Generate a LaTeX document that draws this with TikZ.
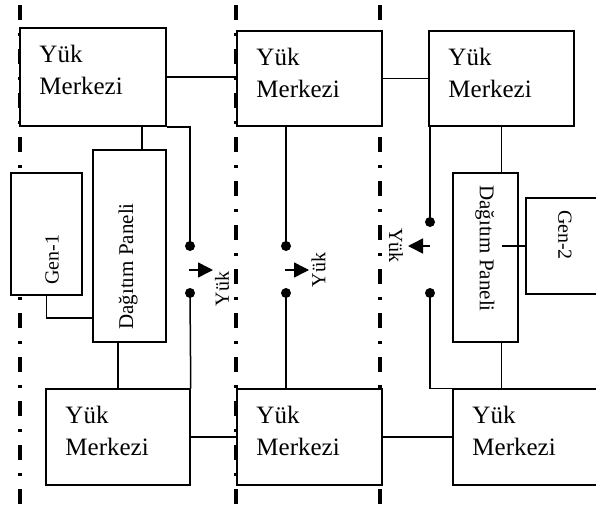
\documentclass[tikz,border=0pt]{standalone}
\usepackage{fontspec}
\setmainfont{Liberation Serif}
\usetikzlibrary{arrows.meta}
\newcommand\boxfont{\fontsize{25}{31.5}\selectfont}
\newcommand\sidefont{\fontsize{20}{24}\selectfont}
\newcommand\panelfont{\fontsize{21}{25}\selectfont}
\begin{document}
\begin{tikzpicture}[x=1pt,y=-1pt,
  conn/.style={line width=1.5pt},
  divider/.style={line width=3.1pt, dash pattern=on 15pt off 13pt on 3pt off 13pt},
  frame/.style={draw, fill=white, line width=1.5pt, inner sep=0pt},
  ymbox/.style={frame, label={[anchor=north west, align=left, font=\boxfont, inner sep=0pt, xshift=20pt, yshift=-18pt]north west:Yük\\Merkezi}},
  sidetext/.style={font=\sidefont, inner sep=0pt},
  paneltext/.style={font=\panelfont, inner sep=0pt},
  tip/.style={conn, -{Triangle[length=15pt,width=15pt]}},
  contact/.style={fill=black}]
\useasboundingbox (0,0) rectangle (596,506);
\clip (0,0) rectangle (596,506);

% zone dividers
\draw[divider] (20,5) -- (20,512);
\draw[divider] (236,5) -- (236,512);
\draw[divider] (380,5) -- (380,512);

% load centres
\node[ymbox, minimum width=146pt, minimum height=98pt] (tl) at (93,77) {};
\node[ymbox, minimum width=145pt, minimum height=95pt] (tm) at (309.5,78.5) {};
\node[ymbox, minimum width=145pt, minimum height=95pt] (tr) at (501.5,78.5) {};
\node[ymbox, minimum width=144pt, minimum height=96pt] (bl) at (118,437) {};
\node[ymbox, minimum width=145pt, minimum height=96pt] (bm) at (309.5,437) {};
\node[ymbox, minimum width=150pt, minimum height=96pt] (br) at (528,437) {};

% distribution panels and generators
\node[frame, minimum width=73pt, minimum height=192pt] (p1) at (129.5,246) {};
\node[frame, minimum width=71pt, minimum height=122pt] (g1) at (46.5,234) {};
\node[frame, minimum width=65pt, minimum height=169pt] (p2) at (485.5,257.5) {};
\node[frame, minimum width=90pt, minimum height=96pt] (g2) at (571,246) {};

\node[paneltext, rotate=90] (p1t) at (128,266.5) {Dağıtım Paneli};
\node[sidetext, rotate=90] (g1t) at (52,259.5) {Gen-1};
\node[paneltext, rotate=-90] (p2t) at (485,248.5) {Dağıtım Paneli};
\node[sidetext, rotate=-90] (g2t) at (565,235) {Gen-2};

% switch contacts
\coordinate (s1a) at (190,246);
\coordinate (s1b) at (190,293);
\coordinate (s2a) at (286,246);
\coordinate (s2b) at (286,293);
\coordinate (s3a) at (430,222);
\coordinate (s3b) at (430,293);

% links between load centres
\draw[conn] (tl.east) -- (tl.east -| tm.west);
\draw[conn] (tm.east) -- (tm.east -| tr.west);
\draw[conn] (bl.east) -- (bm.west);
\draw[conn] (bm.east) -- (br.west);

% left zone
\draw[conn] (tl.south -| 142,0) -- (p1.north -| 142,0);
\draw[conn] (tl.south east) -| (s1a);
\draw[conn] (s1b) -- (bl.north east);
\draw[conn] (g1.south) |- (p1.west |- 0,318);
\draw[conn] (p1.south -| bl.north) -- (bl.north);

% middle zone
\draw[conn] (tm.south -| s2a) -- (s2a);
\draw[conn] (s2b) -- (s2b |- bm.north);

% right zone
\draw[conn] (tr.south -| s3a) -- (s3a);
\draw[conn] (s3b) |- (br.north west);
\draw[conn] (tr.south) -- (tr.south |- p2.north);
\draw[conn] (p2.south -| tr.south) -- (tr.south |- br.north);
\draw[conn] (g2.west) -- (g2.west -| tr.south);

% contacts
\foreach \c in {s1a,s1b,s2a,s2b,s3a,s3b} \fill[contact] (\c) circle[radius=5pt];

% load arrows
\coordinate (a1s) at (189,270);
\coordinate (a1e) at (213,270);
\coordinate (a2s) at (285,270);
\coordinate (a2e) at (309,270);
\coordinate (a3s) at (430,246);
\coordinate (a3e) at (408,246);
\draw[tip] (a1s) -- (a1e);
\draw[tip] (a2s) -- (a2e);
\draw[tip] (a3s) -- (a3e);

\node[sidetext, rotate=90] (y1) at (222,289) {Yük};
\node[sidetext, rotate=90] (y2) at (318.5,270) {Yük};
\node[sidetext, rotate=-90] (y3) at (396,245.5) {Yük};
\end{tikzpicture}
\end{document}
